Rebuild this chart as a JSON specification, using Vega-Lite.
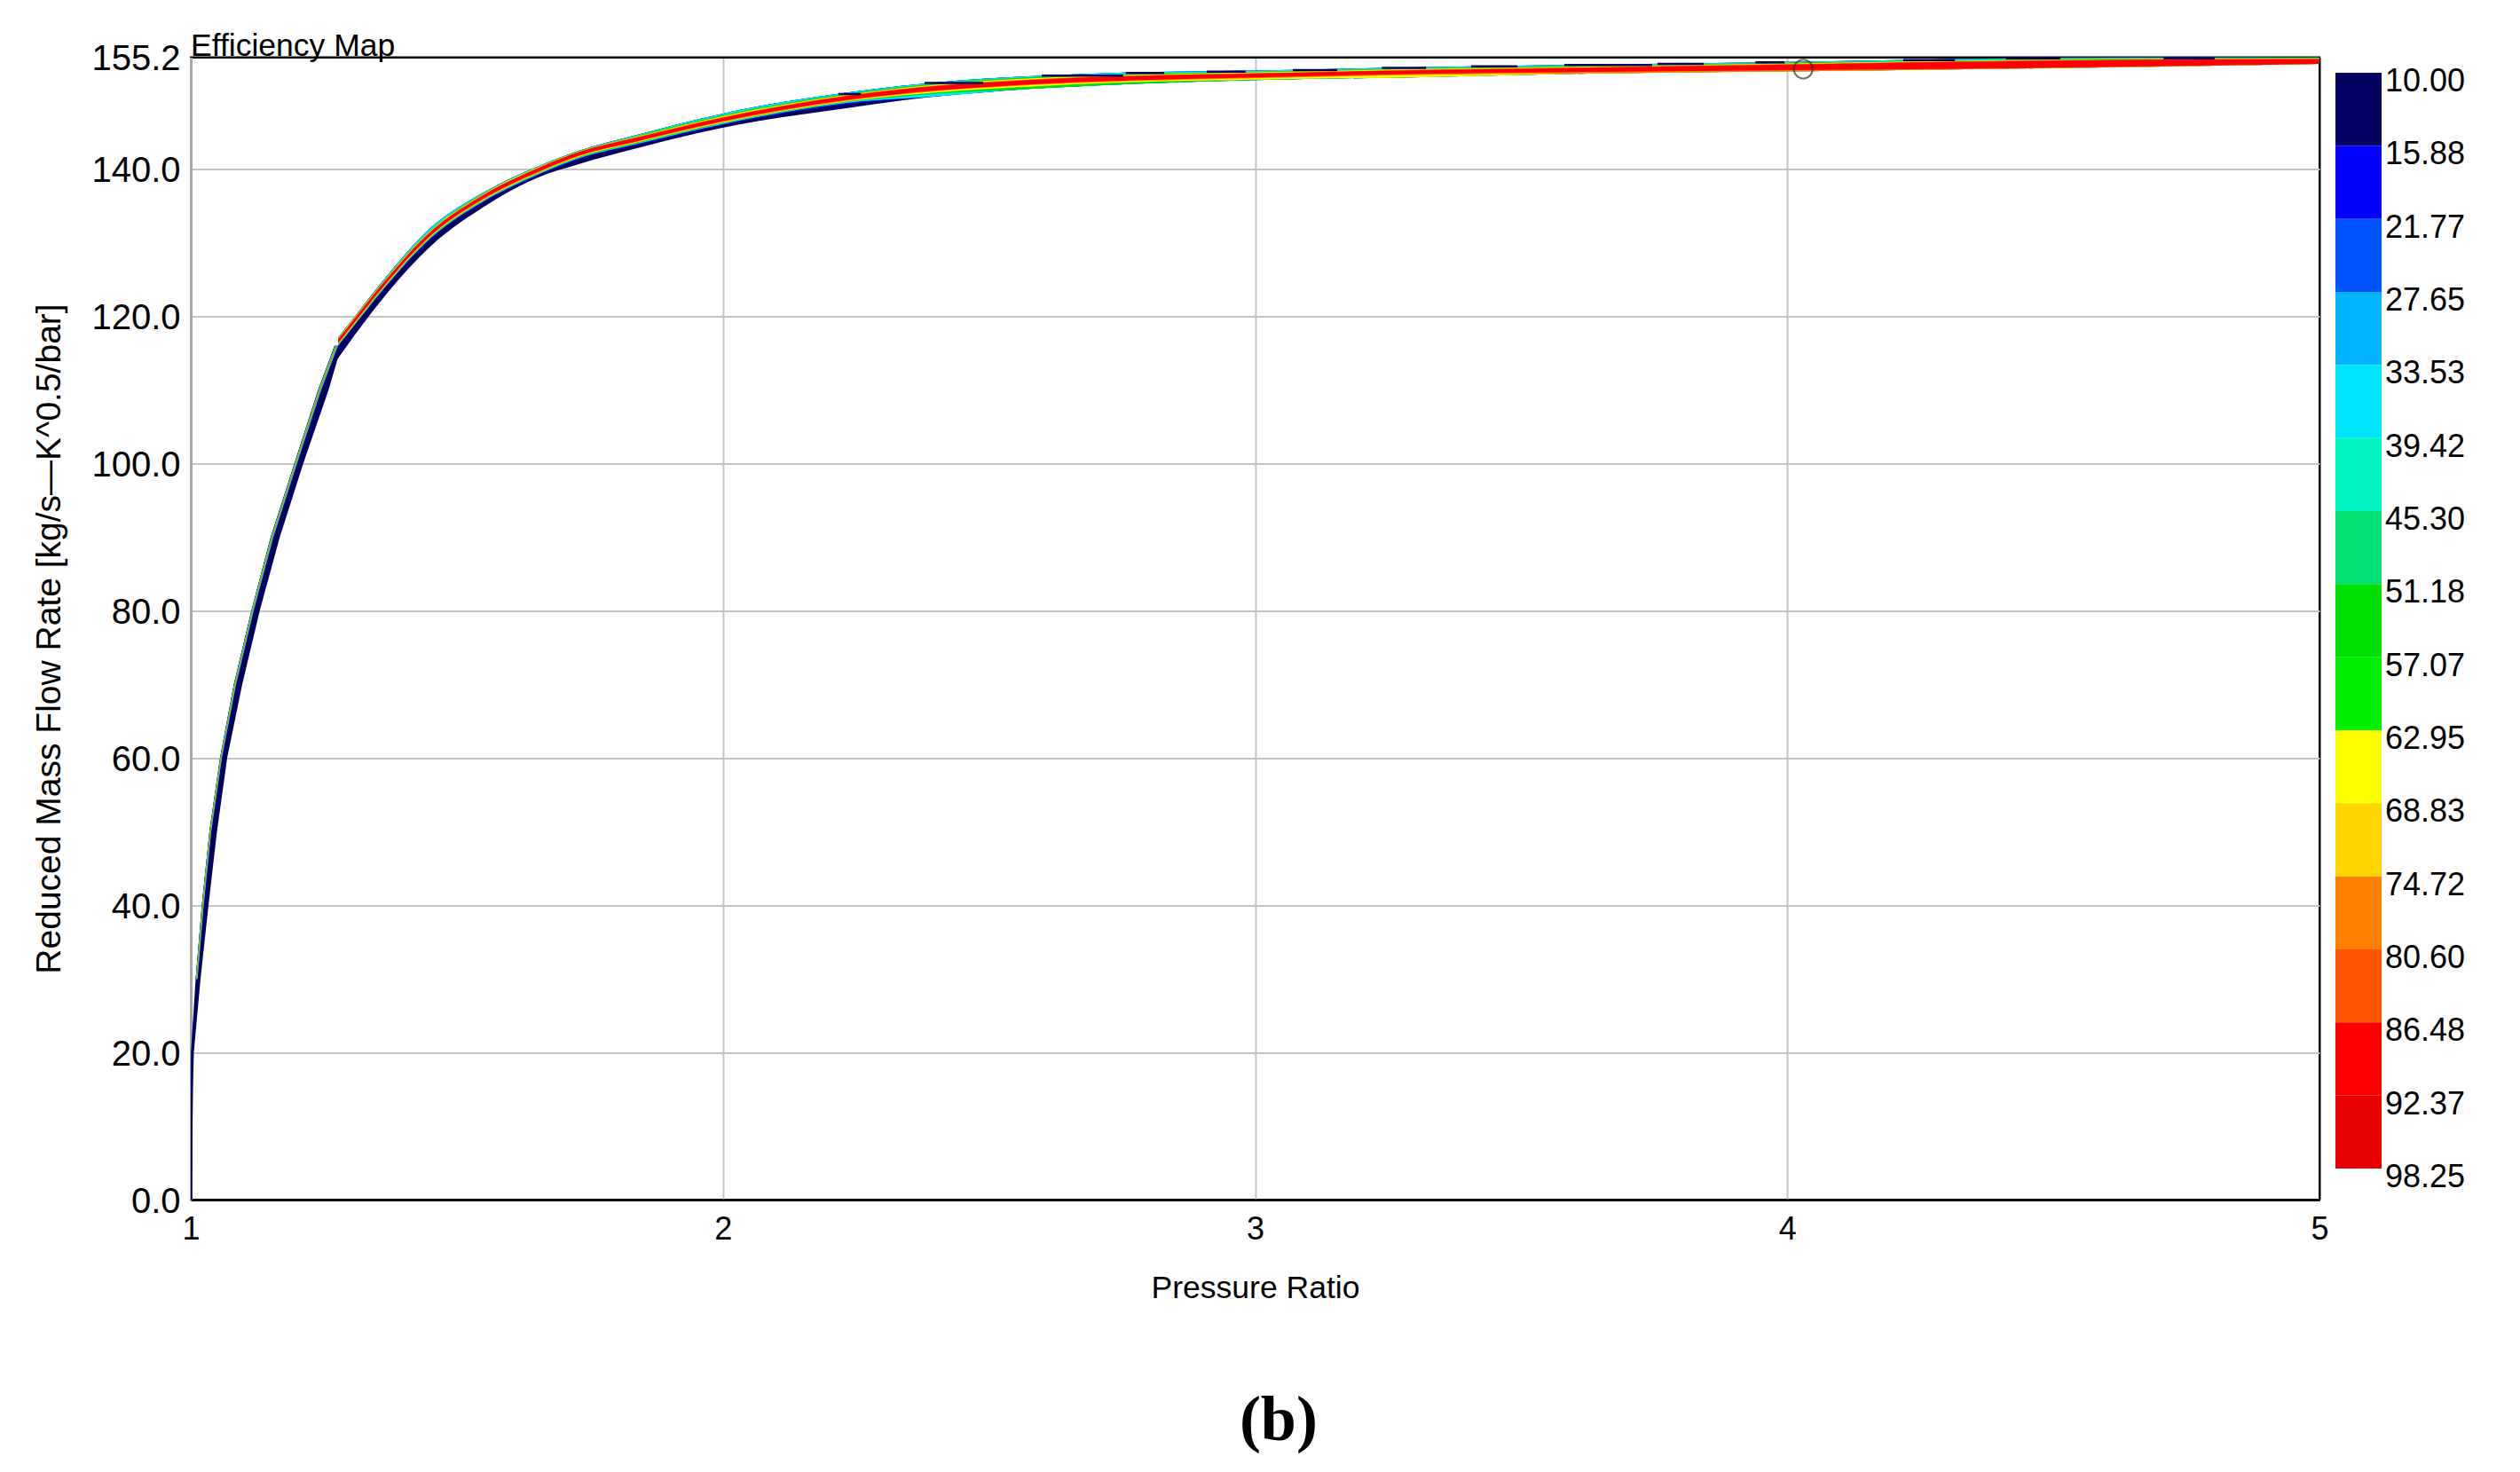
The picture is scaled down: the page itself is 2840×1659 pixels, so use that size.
{"$schema":"https://vega.github.io/schema/vega-lite/v6.json","width":2399,"height":1287.5,"autosize":{"type":"none"},"padding":{"left":215,"top":64.5,"right":226,"bottom":307},"background":"white","config":{"font":"Liberation Sans","view":{"stroke":"black","strokeWidth":2}},"title":{"text":"Efficiency Map","anchor":"start","frame":"group","fontSize":35.5,"fontWeight":"normal","font":"Liberation Sans","color":"black","offset":-52,"baseline":"alphabetic"},"layer":[
{"data":{"values":[
{"v":0,"eff":10,"xlo":1.0,"xhi":1.0028},{"v":10,"eff":10,"xlo":1.0,"xhi":1.0033},{"v":15,"eff":10,"xlo":1.0,"xhi":1.0042},{"v":20,"eff":10,"xlo":1.0003,"xhi":1.0058},{"v":30,"eff":10,"xlo":1.0092,"xhi":1.0183},{"v":40,"eff":10,"xlo":1.0208,"xhi":1.0333},{"v":50,"eff":10,"xlo":1.035,"xhi":1.0492},{"v":60,"eff":10,"xlo":1.055,"xhi":1.0684},{"v":70,"eff":10,"xlo":1.0809,"xhi":1.0967},{"v":80,"eff":10,"xlo":1.1139,"xhi":1.1296},{"v":90,"eff":10,"xlo":1.1501,"xhi":1.1672},{"v":100,"eff":10,"xlo":1.1946,"xhi":1.2113},{"v":110,"eff":10,"xlo":1.2393,"xhi":1.2589},{"v":114,"eff":10,"xlo":1.2601,"xhi":1.2751},{"v":116,"eff":10,"xlo":1.2701,"xhi":1.2851},
{"v":30,"eff":16,"xlo":1.0092,"xhi":1.0134},{"v":40,"eff":16,"xlo":1.0208,"xhi":1.025},{"v":50,"eff":16,"xlo":1.035,"xhi":1.0392},{"v":60,"eff":16,"xlo":1.055,"xhi":1.0592},{"v":70,"eff":16,"xlo":1.0809,"xhi":1.0859},{"v":80,"eff":16,"xlo":1.1139,"xhi":1.1189},{"v":90,"eff":16,"xlo":1.1501,"xhi":1.1559},{"v":100,"eff":16,"xlo":1.1946,"xhi":1.2004},{"v":110,"eff":16,"xlo":1.2393,"xhi":1.246},{"v":116,"eff":16,"xlo":1.2701,"xhi":1.2776},
{"v":30,"eff":34,"xlo":1.0096,"xhi":1.0127},{"v":40,"eff":34,"xlo":1.0212,"xhi":1.0243},{"v":50,"eff":34,"xlo":1.0354,"xhi":1.0385},{"v":60,"eff":34,"xlo":1.0554,"xhi":1.0585},{"v":70,"eff":34,"xlo":1.0814,"xhi":1.0852},{"v":80,"eff":34,"xlo":1.1144,"xhi":1.1182},{"v":90,"eff":34,"xlo":1.1507,"xhi":1.1551},{"v":100,"eff":34,"xlo":1.1952,"xhi":1.1996},{"v":110,"eff":34,"xlo":1.24,"xhi":1.245},{"v":116,"eff":34,"xlo":1.2709,"xhi":1.2765},
{"v":30,"eff":52,"xlo":1.01,"xhi":1.0121},{"v":40,"eff":52,"xlo":1.0216,"xhi":1.0237},{"v":50,"eff":52,"xlo":1.0358,"xhi":1.0379},{"v":60,"eff":52,"xlo":1.0558,"xhi":1.0579},{"v":70,"eff":52,"xlo":1.0819,"xhi":1.0844},{"v":80,"eff":52,"xlo":1.1149,"xhi":1.1174},{"v":90,"eff":52,"xlo":1.1513,"xhi":1.1542},{"v":100,"eff":52,"xlo":1.1958,"xhi":1.1987},{"v":110,"eff":52,"xlo":1.2406,"xhi":1.244},{"v":116,"eff":52,"xlo":1.2716,"xhi":1.2753},
{"v":30,"eff":63,"xlo":1.0105,"xhi":1.0117},{"v":40,"eff":63,"xlo":1.0221,"xhi":1.0233},{"v":50,"eff":63,"xlo":1.0363,"xhi":1.0375},{"v":60,"eff":63,"xlo":1.0563,"xhi":1.0575},{"v":70,"eff":63,"xlo":1.0824,"xhi":1.0839},{"v":80,"eff":63,"xlo":1.1154,"xhi":1.1169},{"v":90,"eff":63,"xlo":1.1519,"xhi":1.1536},{"v":100,"eff":63,"xlo":1.1964,"xhi":1.1981},{"v":110,"eff":63,"xlo":1.2413,"xhi":1.2433},{"v":116,"eff":63,"xlo":1.2724,"xhi":1.2746},
{"v":30,"eff":87,"xlo":1.0108,"xhi":1.0114},{"v":40,"eff":87,"xlo":1.0224,"xhi":1.023},{"v":50,"eff":87,"xlo":1.0366,"xhi":1.0372},{"v":60,"eff":87,"xlo":1.0566,"xhi":1.0572},{"v":70,"eff":87,"xlo":1.0828,"xhi":1.0835},{"v":80,"eff":87,"xlo":1.1158,"xhi":1.1165},{"v":90,"eff":87,"xlo":1.1523,"xhi":1.1531},{"v":100,"eff":87,"xlo":1.1968,"xhi":1.1976},{"v":110,"eff":87,"xlo":1.2418,"xhi":1.2428},{"v":116,"eff":87,"xlo":1.2729,"xhi":1.274}
]},"mark":{"type":"area","clip":true},"encoding":{
"x":{"field":"xlo","type":"quantitative","scale":{"domain":[1,5],"nice":false,"zero":false},"axis":{"title":"Pressure Ratio","titleFontSize":35.5,"titleFontWeight":"normal","titleColor":"black","titlePadding":31,"values":[1,2,3,4,5],"format":"d","labelFontSize":36,"labelColor":"black","labelPadding":16,"labelFlush":false,"labelOverlap":false,"ticks":false,"domain":true,"domainColor":"black","domainWidth":2,"grid":true,"gridWidth":2,"gridColor":{"condition":{"test":"datum.value==5","value":"black"},"value":"#c4c4c4"}}},
"x2":{"field":"xhi"},
"y":{"field":"v","type":"quantitative","scale":{"domain":[0,155.2],"nice":false,"zero":false},"axis":{"title":"Reduced Mass Flow Rate [kg/s—K^0.5/bar]","titleFontSize":39,"titleFontWeight":"normal","titleColor":"black","titleX":-160,"titleY":655,"titleAngle":-90,"titleAlign":"center","titleBaseline":"middle","values":[0,20,40,60,80,100,120,140,155.2],"format":".1f","labelFontSize":40,"labelColor":"black","labelPadding":12,"labelOffset":2,"labelOverlap":false,"labelFlush":false,"ticks":false,"domain":true,"domainColor":"#a8a8a8","domainWidth":3,"grid":true,"gridWidth":2,"gridColor":{"condition":{"test":"datum.value==155.2||datum.value==0","value":"black"},"value":"#c4c4c4"}}},
"color":{"field":"eff","type":"quantitative","scale":{"type":"quantize","domain":[10,98.25],"nice":false,"zero":false,"range":["#000060","#0000ff","#0055ff","#00b4ff","#00e5ff","#00f5c0","#00e070","#00e000","#00ee00","#ffff00","#ffd500","#ff8000","#ff5500","#ff0000","#e80000"]},"legend":{"type":"gradient","orient":"none","legendX":2417,"legendY":17.5,"title":null,"direction":"vertical","gradientLength":1235,"gradientThickness":52,"gradientStrokeWidth":0,"labelFontSize":36,"labelColor":"black","labelOffset":4,"labelOverlap":false,"labelExpr":"format(datum.value,'.2f')","values":[10,15.8834,21.7668,27.6501,33.5334,39.4168,45.3001,51.1834,57.0668,62.9501,68.8334,74.7168,80.6001,86.4834,92.3668,98.25],"encoding":{"gradient":{"y":{"value":{"expr":"datum.perc*1235"}},"y2":{"value":{"expr":"datum.perc2*1235"}}},"labels":{"y":{"value":{"expr":"datum.perc*1235+10"}},"baseline":{"value":"middle"}}}}}
}},
{"data":{"values":[
{"x":1.2768,"eff":10,"lo":114.3,"hi":117.1},{"x":1.2768,"eff":16,"lo":115.88,"hi":117.1},{"x":1.2768,"eff":34,"lo":115.98,"hi":117.1},{"x":1.2768,"eff":52,"lo":116.08,"hi":117.05},{"x":1.2768,"eff":63,"lo":116.18,"hi":117},{"x":1.2768,"eff":75,"lo":116.27,"hi":116.93},{"x":1.2768,"eff":87,"lo":116.35,"hi":116.85},
{"x":1.3085,"eff":10,"lo":117.5,"hi":120},{"x":1.3085,"eff":16,"lo":118.78,"hi":120},{"x":1.3085,"eff":34,"lo":118.88,"hi":120},{"x":1.3085,"eff":52,"lo":118.98,"hi":119.95},{"x":1.3085,"eff":63,"lo":119.08,"hi":119.9},{"x":1.3085,"eff":75,"lo":119.17,"hi":119.83},{"x":1.3085,"eff":87,"lo":119.25,"hi":119.75},
{"x":1.3585,"eff":10,"lo":122.2,"hi":124.6},{"x":1.3585,"eff":16,"lo":123.28,"hi":124.6},{"x":1.3585,"eff":34,"lo":123.38,"hi":124.6},{"x":1.3585,"eff":52,"lo":123.48,"hi":124.5},{"x":1.3585,"eff":63,"lo":123.58,"hi":124.4},{"x":1.3585,"eff":75,"lo":123.67,"hi":124.33},{"x":1.3585,"eff":87,"lo":123.75,"hi":124.25},
{"x":1.4535,"eff":10,"lo":129.7,"hi":132.2},{"x":1.4535,"eff":16,"lo":130.68,"hi":132.2},{"x":1.4535,"eff":34,"lo":130.78,"hi":132.2},{"x":1.4535,"eff":52,"lo":130.88,"hi":131.9},{"x":1.4535,"eff":63,"lo":130.98,"hi":131.8},{"x":1.4535,"eff":75,"lo":131.07,"hi":131.73},{"x":1.4535,"eff":87,"lo":131.15,"hi":131.65},
{"x":1.547,"eff":10,"lo":134.7,"hi":136.7},{"x":1.547,"eff":16,"lo":135.38,"hi":136.7},{"x":1.547,"eff":34,"lo":135.48,"hi":136.7},{"x":1.547,"eff":52,"lo":135.58,"hi":136.6},{"x":1.547,"eff":63,"lo":135.68,"hi":136.5},{"x":1.547,"eff":75,"lo":135.77,"hi":136.43},{"x":1.547,"eff":87,"lo":135.85,"hi":136.35},
{"x":1.6536,"eff":10,"lo":138.9,"hi":140.4},{"x":1.6536,"eff":16,"lo":139.18,"hi":140.4},{"x":1.6536,"eff":34,"lo":139.28,"hi":140.4},{"x":1.6536,"eff":52,"lo":139.38,"hi":140.35},{"x":1.6536,"eff":63,"lo":139.48,"hi":140.3},{"x":1.6536,"eff":75,"lo":139.57,"hi":140.23},{"x":1.6536,"eff":87,"lo":139.65,"hi":140.15},
{"x":1.7303,"eff":10,"lo":140.7,"hi":142.5},{"x":1.7303,"eff":16,"lo":141.38,"hi":142.5},{"x":1.7303,"eff":34,"lo":141.48,"hi":142.5},{"x":1.7303,"eff":52,"lo":141.58,"hi":142.47},{"x":1.7303,"eff":63,"lo":141.68,"hi":142.43},{"x":1.7303,"eff":75,"lo":141.77,"hi":142.38},{"x":1.7303,"eff":87,"lo":141.85,"hi":142.32},
{"x":1.842,"eff":10,"lo":142.9,"hi":144.7},{"x":1.842,"eff":16,"lo":143.38,"hi":144.7},{"x":1.842,"eff":34,"lo":143.48,"hi":144.7},{"x":1.842,"eff":52,"lo":143.58,"hi":144.6},{"x":1.842,"eff":63,"lo":143.68,"hi":144.5},{"x":1.842,"eff":75,"lo":143.77,"hi":144.43},{"x":1.842,"eff":87,"lo":143.85,"hi":144.35},
{"x":1.997,"eff":10,"lo":145.6,"hi":147.5},{"x":1.997,"eff":16,"lo":145.98,"hi":147.5},{"x":1.997,"eff":34,"lo":146.08,"hi":147.5},{"x":1.997,"eff":52,"lo":146.18,"hi":147.3},{"x":1.997,"eff":63,"lo":146.28,"hi":147.15},{"x":1.997,"eff":75,"lo":146.37,"hi":147.05},{"x":1.997,"eff":87,"lo":146.45,"hi":146.95},
{"x":2.234,"eff":10,"lo":148.3,"hi":150.4},{"x":2.234,"eff":16,"lo":148.85,"hi":150.4},{"x":2.234,"eff":34,"lo":149,"hi":150.4},{"x":2.234,"eff":52,"lo":149.1,"hi":150.25},{"x":2.234,"eff":63,"lo":149.2,"hi":150.1},{"x":2.234,"eff":75,"lo":149.3,"hi":150.02},{"x":2.234,"eff":87,"lo":149.4,"hi":149.95},
{"x":2.404,"eff":10,"lo":149.9,"hi":151.8},{"x":2.404,"eff":16,"lo":149.9,"hi":151.8},{"x":2.404,"eff":34,"lo":149.9,"hi":151.8},{"x":2.404,"eff":52,"lo":150.25,"hi":151.65},{"x":2.404,"eff":63,"lo":150.45,"hi":151.5},{"x":2.404,"eff":75,"lo":150.6,"hi":151.4},{"x":2.404,"eff":87,"lo":150.7,"hi":151.3},
{"x":2.574,"eff":10,"lo":150.9,"hi":152.6},{"x":2.574,"eff":16,"lo":150.9,"hi":152.6},{"x":2.574,"eff":34,"lo":150.9,"hi":152.6},{"x":2.574,"eff":52,"lo":150.9,"hi":152.45},{"x":2.574,"eff":63,"lo":151.2,"hi":152.3},{"x":2.574,"eff":75,"lo":151.4,"hi":152.2},{"x":2.574,"eff":87,"lo":151.5,"hi":152.1},
{"x":2.744,"eff":10,"lo":151.5,"hi":153.1},{"x":2.744,"eff":16,"lo":151.5,"hi":153.1},{"x":2.744,"eff":34,"lo":151.5,"hi":153.1},{"x":2.744,"eff":52,"lo":151.5,"hi":152.9},{"x":2.744,"eff":63,"lo":151.75,"hi":152.75},{"x":2.744,"eff":75,"lo":151.9,"hi":152.65},{"x":2.744,"eff":87,"lo":152,"hi":152.6},
{"x":3,"eff":10,"lo":152.1,"hi":153.4},{"x":3,"eff":16,"lo":152.1,"hi":153.4},{"x":3,"eff":34,"lo":152.1,"hi":153.4},{"x":3,"eff":52,"lo":152.1,"hi":153.25},{"x":3,"eff":63,"lo":152.15,"hi":153.15},{"x":3,"eff":75,"lo":152.35,"hi":153.05},{"x":3,"eff":87,"lo":152.45,"hi":153},
{"x":3.31,"eff":10,"lo":152.5,"hi":153.85},{"x":3.31,"eff":16,"lo":152.5,"hi":153.85},{"x":3.31,"eff":34,"lo":152.5,"hi":153.85},{"x":3.31,"eff":52,"lo":152.5,"hi":153.7},{"x":3.31,"eff":63,"lo":152.5,"hi":153.6},{"x":3.31,"eff":75,"lo":152.8,"hi":153.5},{"x":3.31,"eff":87,"lo":152.95,"hi":153.45},
{"x":3.643,"eff":10,"lo":153,"hi":154.2},{"x":3.643,"eff":16,"lo":153,"hi":154.2},{"x":3.643,"eff":34,"lo":153,"hi":154.2},{"x":3.643,"eff":52,"lo":153,"hi":154.05},{"x":3.643,"eff":63,"lo":153,"hi":153.95},{"x":3.643,"eff":75,"lo":153,"hi":153.88},{"x":3.643,"eff":87,"lo":153.2,"hi":153.8},
{"x":4.03,"eff":10,"lo":153.3,"hi":154.6},{"x":4.03,"eff":16,"lo":153.3,"hi":154.6},{"x":4.03,"eff":34,"lo":153.3,"hi":154.6},{"x":4.03,"eff":52,"lo":153.3,"hi":154.5},{"x":4.03,"eff":63,"lo":153.3,"hi":154.4},{"x":4.03,"eff":75,"lo":153.3,"hi":154.32},{"x":4.03,"eff":87,"lo":153.45,"hi":154.25},
{"x":4.476,"eff":10,"lo":153.7,"hi":155.1},{"x":4.476,"eff":16,"lo":153.7,"hi":155.1},{"x":4.476,"eff":34,"lo":153.7,"hi":155.1},{"x":4.476,"eff":52,"lo":153.7,"hi":154.95},{"x":4.476,"eff":63,"lo":153.7,"hi":154.85},{"x":4.476,"eff":75,"lo":153.7,"hi":154.8},{"x":4.476,"eff":87,"lo":153.75,"hi":154.72},
{"x":5,"eff":10,"lo":154.3,"hi":155.2},{"x":5,"eff":16,"lo":154.3,"hi":155.2},{"x":5,"eff":34,"lo":154.3,"hi":155.2},{"x":5,"eff":52,"lo":154.3,"hi":155.15},{"x":5,"eff":63,"lo":154.3,"hi":155.05},{"x":5,"eff":75,"lo":154.3,"hi":155},{"x":5,"eff":87,"lo":154.3,"hi":154.95}
]},"mark":{"type":"area","interpolate":"monotone","clip":true},"encoding":{"x":{"field":"x","type":"quantitative"},"y":{"field":"hi","type":"quantitative"},"y2":{"field":"lo"},"color":{"field":"eff","type":"quantitative","legend":null,"scale":{"type":"quantize","domain":[10,98.25],"nice":false,"zero":false,"range":["#000060","#0000ff","#0055ff","#00b4ff","#00e5ff","#00f5c0","#00e070","#00e000","#00ee00","#ffff00","#ffd500","#ff8000","#ff5500","#ff0000","#e80000"]}}}},
{"data":{"values":[
{"from":2.217,"to":2.259,"flow":150.2,"eff":10},{"from":2.379,"to":2.489,"flow":151.7,"eff":10},{"from":2.599,"to":2.752,"flow":152.7,"eff":10},{"from":2.757,"to":2.829,"flow":153.05,"eff":10},{"from":2.909,"to":2.982,"flow":153.25,"eff":10},{"from":3.071,"to":3.154,"flow":153.45,"eff":10},{"from":3.238,"to":3.321,"flow":153.75,"eff":10},{"from":3.406,"to":3.493,"flow":153.95,"eff":10},{"from":3.581,"to":3.746,"flow":154.15,"eff":10},{"from":3.756,"to":3.843,"flow":154.3,"eff":10},{"from":3.94,"to":3.995,"flow":154.5,"eff":10},{"from":4.218,"to":4.315,"flow":154.8,"eff":10},{"from":4.411,"to":4.513,"flow":155.05,"eff":10},{"from":4.707,"to":4.803,"flow":155.05,"eff":10}
]},"mark":{"type":"rule","strokeWidth":2.5},"encoding":{"x":{"field":"from","type":"quantitative"},"x2":{"field":"to"},"y":{"field":"flow","type":"quantitative"},"color":{"field":"eff","type":"quantitative","legend":null,"scale":{"type":"quantize","domain":[10,98.25],"nice":false,"zero":false,"range":["#000060","#0000ff","#0055ff","#00b4ff","#00e5ff","#00f5c0","#00e070","#00e000","#00ee00","#ffff00","#ffd500","#ff8000","#ff5500","#ff0000","#e80000"]}}}},
{"data":{"values":[{"pr":4.03,"flow":153.6}]},"mark":{"type":"point","shape":"circle","filled":false,"size":452,"stroke":"#333333","strokeWidth":2,"clip":false},"encoding":{"x":{"field":"pr","type":"quantitative"},"y":{"field":"flow","type":"quantitative"}}},
{"data":{"values":[{"caption":"(b)","cx":3.044,"cy":-32.7}]},"mark":{"type":"text","font":"Liberation Serif","fontWeight":"bold","fontSize":72,"baseline":"alphabetic","align":"center","color":"black"},"encoding":{"x":{"field":"cx","type":"quantitative"},"y":{"field":"cy","type":"quantitative"},"text":{"field":"caption"}}}
]}
